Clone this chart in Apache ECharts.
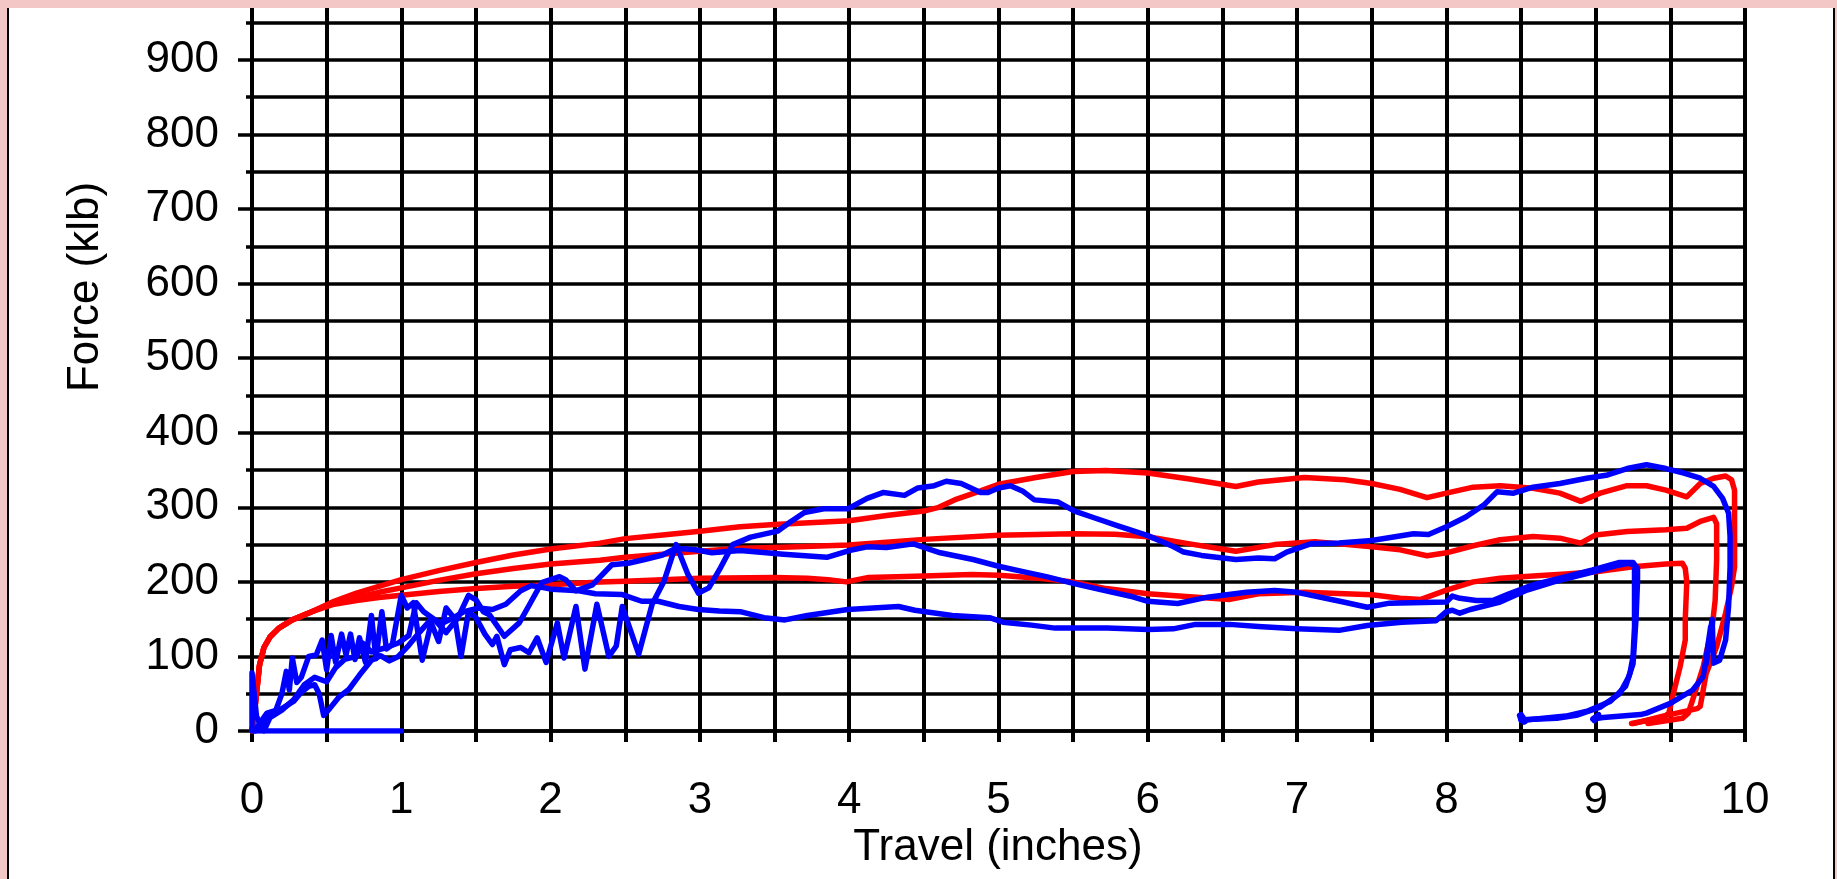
<!DOCTYPE html>
<html><head><meta charset="utf-8">
<script src="https://cdn.jsdelivr.net/npm/echarts@6/dist/echarts.min.js"></script>
<style>
html,body{margin:0;padding:0;width:1837px;height:879px;overflow:hidden;background:#f4c7c7;}
#panel{position:absolute;left:7px;top:8px;width:1828px;height:871px;background:#fff;border-left:2px solid #000;border-right:2px solid #000;box-sizing:border-box;}
#chart{position:absolute;left:0;top:0;width:1837px;height:879px;}
#topstrip{position:absolute;left:0;top:0;width:1837px;height:8px;background:#f4c7c7;z-index:10;}
</style></head>
<body><div id="panel"></div><div id="chart"></div><div id="topstrip"></div>
<script>
const xTickLabels = [0,1,2,3,4,5,6,7,8,9,10];
const yTickLabels = [0,100,200,300,400,500,600,700,800,900];
const xTitle = 'Travel (inches)';
const yTitle = 'Force (klb)';

const redOnset = [[0,0],[0.01,12],[0.03,50],[0.05,88],[0.08,112],[0.12,126],[0.18,138],[0.27,149],[0.4,160]];
const redUpper = [[0.55,174],[0.7,185],[0.85,194],[1.0,203],[1.25,215],[1.5,226],[1.75,236],[2.0,244],[2.33,252],[2.5,258],[2.75,263],[3.0,268],[3.27,274],[3.5,277],[4.0,282],[4.25,289],[4.5,295],[4.6,300],[4.72,311],[4.88,322],[5.0,331],[5.25,340],[5.5,348],[5.72,349.5],[6.0,346],[6.28,338],[6.59,328],[6.74,334],[7.05,340],[7.32,337],[7.5,332],[7.69,324],[7.87,313],[8.0,319],[8.18,327],[8.36,329],[8.58,325.5],[8.76,319],[8.9,308],[9.03,319],[9.21,329],[9.34,329],[9.47,323],[9.61,314],[9.7,332],[9.79,339],[9.87,342],[9.91,337],[9.93,323],[9.93,292],[9.93,220],[9.91,194],[9.87,158],[9.81,113],[9.74,77],[9.7,33],[9.68,30],[9.45,20],[9.25,10]];
const redMiddle = [[0.55,172],[0.7,179],[0.85,186],[1.0,192],[1.25,202],[1.5,211],[1.75,218],[2.0,224],[2.33,229],[2.5,233],[2.75,237],[3.0,241],[3.27,245],[3.5,246],[4.0,249.5],[4.5,257],[5.0,262.5],[5.5,264.5],[5.78,264],[6.0,260.5],[6.28,251],[6.59,241],[6.85,250],[7.12,254],[7.5,247],[7.69,243],[7.87,235],[8.0,239],[8.18,248.5],[8.36,256.5],[8.58,261],[8.76,258.6],[8.9,252],[9.0,263],[9.21,267.6],[9.47,270],[9.61,272],[9.7,281],[9.79,286.6],[9.81,278],[9.81,230],[9.8,175],[9.78,140],[9.72,86],[9.65,42],[9.62,24],[9.58,17],[9.35,10]];
const redLower = [[0.55,170],[0.7,175],[0.85,179],[1.0,182],[1.25,187],[1.5,191],[1.75,194],[2.0,196],[2.33,200],[2.5,201],[2.75,203],[3.0,205],[3.5,206],[3.72,205],[3.86,203],[3.98,200],[4.13,206],[4.5,208],[4.82,210],[5.0,209],[5.27,205],[5.5,200],[5.72,191],[6.0,184],[6.28,180],[6.55,176.5],[6.74,184],[7.05,186],[7.5,182.6],[7.69,178],[7.83,176.5],[8.0,189],[8.18,200],[8.36,205],[8.58,208],[8.8,210.6],[9.0,213.7],[9.25,220.4],[9.47,224],[9.58,225],[9.6,218],[9.61,200],[9.6,150],[9.6,122],[9.565,86],[9.52,50],[9.49,24],[9.45,18],[9.24,10]];

const blueUpper = [[0.0,2],[0.0,78],[0.03,20],[0.06,6],[0.1,22],[0.16,28],[0.2,50],[0.23,80],[0.25,55],[0.27,98],[0.3,65],[0.33,72],[0.38,100],[0.43,102],[0.47,122],[0.5,82],[0.53,128],[0.56,92],[0.6,130],[0.63,102],[0.66,130],[0.69,96],[0.72,125],[0.76,92],[0.8,155],[0.83,97],[0.87,160],[0.9,110],[0.94,116],[1.0,182],[1.04,165],[1.08,172],[1.14,95],[1.2,145],[1.25,120],[1.3,165],[1.36,150],[1.4,100],[1.45,160],[1.5,152],[1.56,130],[1.61,116],[1.64,127],[1.69,89],[1.73,109],[1.8,112],[1.855,105],[1.91,125],[1.97,92],[2.045,145],[2.09,98],[2.17,167],[2.23,83],[2.31,170],[2.39,100],[2.44,114],[2.48,167],[2.59,103],[2.68,170],[2.76,201],[2.84,250],[2.92,210],[2.99,185],[3.06,192],[3.13,216],[3.22,250],[3.34,260],[3.52,268],[3.61,281],[3.7,293],[3.83,298],[3.99,298],[4.12,312],[4.23,320],[4.37,316],[4.46,326],[4.57,329],[4.65,335],[4.75,332],[4.88,320],[4.93,320],[5.0,326],[5.08,329],[5.16,322],[5.24,310],[5.4,307],[5.51,295],[5.64,286],[5.8,275],[6.0,262],[6.17,247.5],[6.24,240],[6.36,235.5],[6.59,230],[6.74,232],[6.85,231],[6.93,240],[7.09,251],[7.28,252],[7.5,255.6],[7.78,264.5],[7.88,263.6],[8.0,274],[8.13,287],[8.25,303],[8.34,321],[8.45,319],[8.58,327],[8.76,332],[8.94,339],[9.07,343],[9.21,352],[9.34,357],[9.47,352],[9.59,346],[9.7,339],[9.79,328],[9.85,312],[9.89,292],[9.9,261],[9.9,220],[9.89,167],[9.87,122],[9.83,95],[9.79,91],[9.78,150],[9.74,90],[9.77,140],[9.73,85],[9.76,125],[9.72,73],[9.65,55],[9.5,37],[9.34,24],[9.3,22],[9.05,18],[8.98,16],[9.02,22],[8.99,14]];
const blueMiddle = [[0.08,0],[0.12,18],[0.2,28],[0.28,42],[0.35,62],[0.42,72],[0.5,66],[0.56,85],[0.62,96],[0.7,100],[0.74,118],[0.8,106],[0.9,112],[0.98,118],[1.05,128],[1.1,172],[1.15,160],[1.22,150],[1.3,132],[1.38,152],[1.45,182],[1.5,176],[1.55,160],[1.59,156],[1.69,127],[1.79,145],[1.86,170],[1.94,199],[2.06,207],[2.1,203],[2.17,188],[2.28,196],[2.41,223],[2.52,225],[2.63,230],[2.75,236],[2.84,245],[2.97,243],[3.08,239],[3.27,242],[3.56,237],[3.85,233],[4.0,242],[4.12,247],[4.25,246],[4.43,251],[4.61,239],[4.83,230],[5.0,221],[5.18,213],[5.32,207],[5.5,198],[5.72,188],[5.9,180],[6.0,174],[6.2,171],[6.4,179.5],[6.66,186],[6.85,188.5],[7.0,186],[7.31,173],[7.47,166],[7.62,171.5],[8.0,173],[8.04,181],[8.09,178],[8.2,175],[8.31,175],[8.42,184],[8.58,196],[8.8,207],[8.98,216],[9.16,226],[9.25,226],[9.28,218],[9.28,200],[9.27,150],[9.26,120],[9.25,90],[9.22,72],[9.16,50],[9.03,32],[8.87,21],[8.74,17],[8.5,15],[8.49,21],[8.52,12]];
const blueLower = [[0.02,0],[0.05,10],[0.1,24],[0.2,30],[0.28,40],[0.33,52],[0.38,60],[0.42,62],[0.45,50],[0.48,21],[0.52,30],[0.58,45],[0.65,56],[0.72,75],[0.8,95],[0.86,101],[0.92,94],[0.98,100],[1.05,115],[1.12,132],[1.2,150],[1.28,145],[1.35,152],[1.42,160],[1.52,165],[1.61,163],[1.7,170],[1.8,188],[1.87,195],[1.96,192],[2.01,190],[2.19,188],[2.3,184],[2.48,183],[2.61,174],[2.72,174],[2.86,167],[2.99,163],[3.13,161],[3.27,160],[3.43,152],[3.57,149],[3.72,155],[3.99,163],[4.33,167],[4.44,162],[4.69,155],[4.94,152],[5.03,146],[5.22,142],[5.38,138],[5.73,138],[6.0,136],[6.17,137],[6.32,143],[6.55,143],[6.74,140],[7.0,137],[7.28,135],[7.47,141.5],[7.7,146],[7.93,148],[8.0,160],[8.04,162],[8.09,158],[8.16,163],[8.36,173],[8.54,189],[8.72,200],[8.94,211],[9.14,222],[9.22,225],[9.26,222],[9.26,190],[9.26,140],[9.25,100],[9.23,78],[9.2,60],[9.1,40],[8.95,27],[8.8,20],[8.6,16],[8.5,14],[8.5,22],[8.53,13]];
const blueZero = [[0,0],[1.0,0]];

const FONT = '"Liberation Sans", Arial, sans-serif';
const chart = echarts.init(document.getElementById('chart'), null, {renderer:'canvas'});

function lineSeries(data, color){
  return {type:'line', data:data, showSymbol:false, symbol:'none', smooth:false,
    lineStyle:{color:color, width:5.5, join:'round', cap:'round'}, itemStyle:{color:color}, clip:true, z:3};
}

chart.setOption({
  animation:false,
  backgroundColor:'transparent',
  grid:{left:252, right:92, top:-14.6, bottom:148, containLabel:false, outerBoundsMode:'none'},
  xAxis:{type:'value', min:0, max:10, interval:0.5,
    axisLine:{show:true, onZero:false, lineStyle:{color:'#000', width:3.5}},
    axisTick:{show:true, length:11, lineStyle:{color:'#000', width:4}},
    axisLabel:{formatter:function(v){return xTickLabels.indexOf(v)>=0 ? String(v) : '';},
      margin:48, color:'#000', fontSize:44, fontFamily:FONT, hideOverlap:false},
    splitLine:{show:true, lineStyle:{color:'#000', width:4}}},
  yAxis:{type:'value', min:0, max:1000, interval:100,
    axisLine:{show:true, lineStyle:{color:'#000', width:4}},
    axisTick:{show:true, length:14, lineStyle:{color:'#000', width:3.5}},
    minorTick:{show:true, splitNumber:2, length:6, lineStyle:{color:'#000', width:3.5}},
    axisLabel:{formatter:function(v){return yTickLabels.indexOf(v)>=0 ? String(v) : '';},
      margin:33, color:'#000', fontSize:44, fontFamily:FONT},
    splitLine:{show:true, lineStyle:{color:'#000', width:3.5}},
    minorSplitLine:{show:true, lineStyle:{color:'#000', width:3.5}}},
  graphic:[
    {type:'text', x:86, y:287, rotation:Math.PI/2, z:10,
      style:{text:yTitle, fontSize:44, fontFamily:FONT, fill:'#000', align:'center', verticalAlign:'middle', textAlign:'center', textVerticalAlign:'middle'}},
    {type:'text', x:998, y:848, z:10,
      style:{text:xTitle, fontSize:44, fontFamily:FONT, fill:'#000', align:'center', verticalAlign:'middle', textAlign:'center', textVerticalAlign:'middle'}}
  ],
  series:[
    lineSeries(redOnset.concat(redLower), '#ff0000'),
    lineSeries(redOnset.concat(redMiddle), '#ff0000'),
    lineSeries(redOnset.concat(redUpper), '#ff0000'),
    lineSeries(blueLower, '#0000ff'),
    lineSeries(blueMiddle, '#0000ff'),
    lineSeries(blueUpper, '#0000ff'),
    lineSeries(blueZero, '#0000ff')
  ]
});
</script></body></html>
